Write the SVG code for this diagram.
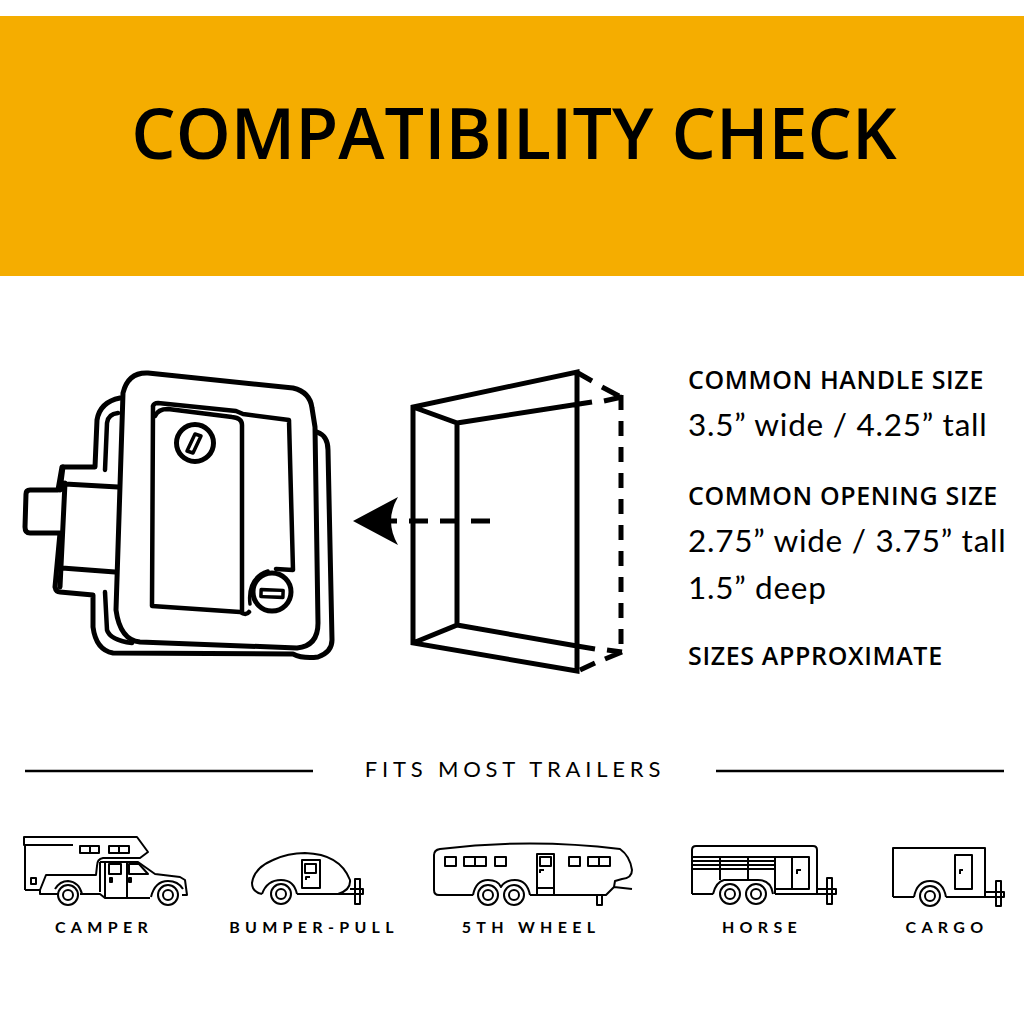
<svg xmlns="http://www.w3.org/2000/svg" width="1024" height="1024" viewBox="0 0 1024 1024">
<style>
.l{fill:none;stroke:#000;stroke-linejoin:round;stroke-linecap:round}
.k{stroke-width:5}
.t{stroke-width:4.500}
.b{stroke-width:5;stroke-linecap:butt;stroke-linejoin:miter}
.v{fill:none;stroke:#000;stroke-width:2;stroke-linejoin:round}
text{fill:#000}
.h{font:600 25px "Open Sans",sans-serif;letter-spacing:.65px}
.s{font:400 31.500px Lato,sans-serif;letter-spacing:.75px}
.c{font:700 16px Lato,sans-serif;letter-spacing:5.300px;text-anchor:middle}
</style>
<rect width="1024" height="1024" fill="#fff"/>
<g id="banner">
<rect x="0" y="16" width="1024" height="260" fill="#f5ad00"/>
<text x="514" y="159" text-anchor="middle" font-family="Open Sans,sans-serif" font-weight="600" font-size="70">COMPATIBILITY CHECK</text>
</g>
<g id="latch">
<path class="l k" d="M148 373L293 388Q310 392 312 408L315 427L318 623Q318 646 297 648L140 642Q120 640 116 610L123 393Q128 372 148 373Z"/>
<path class="l k" d="M120 398Q100 402 97 420L95 467H62L58 490H30Q26 490 26 494L25 527Q25 533 30 533L60 533L55 587Q56 592 60 592L93 595V627Q96 650 113 653L293 654Q303 659 318 657Q332 652 332 640L328 450Q328 436 317 432"/>
<path class="l t" d="M105 470L107 423Q108 414 118 413M105 592L107 630Q110 640 132 643"/>
<path class="l k" d="M63 467L60 490M65 483L60 587M65 484L118 487M62 568L115 572"/>
<path class="l t" d="M153 406Q154 403 158 403L236 411L243 414L289 420L293 570L276 569"/>
<path class="l t" d="M153 407L152 606L240 612Q246 616 249 612"/>
<path class="l t" d="M155 416Q158 409 168 409L232 417Q242 418 242 425V611"/>
<circle class="l k" cx="195" cy="443" r="18.500"/>
<path class="l" stroke-width="3.500" d="M195 434L201 436L193 453L187 451Z"/>
<circle class="l k" cx="272" cy="592" r="19"/>
<path class="l" stroke-width="3.500" d="M250 604Q247 578 268 571"/>
<rect class="l" stroke-width="3.500" x="261" y="590" width="22" height="7" transform="rotate(2 272 594)"/>
</g>
<g id="opening">
<path class="l b" d="M413 407V643L577 671V372ZM413 407L457 423V625L413 643M457 423L592 402M457 625L577 646"/>
<path class="l b" d="M621 395V650" stroke-dasharray="15 11"/>
<path class="l b" d="M578 373L592 381M602 387L619 396M604 401L622 397M580 670L595 663M605 659L622 652M577 646L595 649M607 650L622 652"/>
</g>
<g id="connectors">
<path class="l b" d="M490 521H385" stroke-dasharray="19 12"/>
<path d="M353 521L398 497Q384 521 398 545Z" fill="#000"/>
</g>
<g id="specs">
<text class="h" x="688" y="389">COMMON HANDLE SIZE</text>
<text class="s" x="688" y="436">3.5” wide / 4.25” tall</text>
<text class="h" x="688" y="505">COMMON OPENING SIZE</text>
<text class="s" x="688" y="552">2.75” wide / 3.75” tall</text>
<text class="s" x="688" y="599">1.5” deep</text>
<text class="h" x="688" y="665">SIZES APPROXIMATE</text>
</g>
<g id="fits">
<path d="M25 771H313M716 771H1004" stroke="#000" stroke-width="2.500"/>
<text x="515" y="776.500" text-anchor="middle" font-family="Lato,sans-serif" font-size="22" letter-spacing="4.800">FITS MOST TRAILERS</text>
</g>
<g id="camper">
<path class="v" d="M25 890V845H24V837H137L148 852L140 858H103Q97 859 97 866L96 875H46L40 890H25M25 845H73M40 890V894H58M80 894H100L105 898H150M100 862V892M100 862H138L155 874L180 877L185 880L187 895H182"/>
<path class="v" d="M105 862V898M127 862V898"/>
<rect class="v" x="80" y="846" width="19" height="7"/><path class="v" d="M90 846V853"/>
<rect class="v" x="109" y="846" width="20" height="7"/><path class="v" d="M119 846V853"/>
<rect class="v" x="31" y="878" width="5" height="6"/>
<rect class="v" x="109" y="864" width="12" height="10"/>
<path class="v" d="M129 864H139L148 874H129Z"/>
<rect class="v" x="110" y="878" width="2" height="4"/><rect class="v" x="129" y="878" width="2" height="4"/>
<circle class="v" cx="68" cy="895" r="10"/><circle class="v" cx="68" cy="895" r="5"/>
<circle class="v" cx="168" cy="895" r="10"/><circle class="v" cx="168" cy="895" r="5"/>
<path class="v" d="M55 889Q60 881 68 881Q79 882 82 894M151 897Q155 881 168 881Q178 881 183 889"/>
<text class="c" x="104" y="933">CAMPER</text>
</g>
<g id="bumper-pull">
<path class="v" d="M262 894Q252 892 252 883Q254 868 273 860Q288 853 305 853Q340 854 350 880Q351 890 338 894H297"/>
<rect class="v" x="355" y="879" width="5" height="25" fill="#fff"/>
<path class="v" d="M338 894H363V889H350M262 894Q267 880 281 880Q294 880 297 894"/>
<circle class="v" cx="281" cy="894" r="10"/><circle class="v" cx="281" cy="894" r="5"/>
<rect class="v" x="302" y="860" width="18" height="28"/><rect class="v" x="305" y="864" width="11" height="9"/>
<path class="v" d="M310 877H306V880"/>
<text class="c" x="314" y="933">BUMPER-PULL</text>
</g>
<g id="fifth-wheel">
<path class="v" d="M473 895H439Q434 895 434 890V855Q434 850 440 849Q530 838 620 849Q630 856 632 870Q632 878 622 879L615 881L614 887L632 889M614 887L606 895H530M473 895Q476 880 488 880Q498 880 501 887Q505 880 515 880Q527 880 530 895"/>
<circle class="v" cx="488" cy="895" r="10"/><circle class="v" cx="488" cy="895" r="5"/>
<circle class="v" cx="514" cy="895" r="10"/><circle class="v" cx="514" cy="895" r="5"/>
<rect class="v" x="445" y="857" width="11" height="9"/>
<rect class="v" x="464" y="857" width="22" height="9"/><path class="v" d="M475 857V866"/>
<rect class="v" x="495" y="857" width="11" height="9"/>
<rect class="v" x="537" y="854" width="17" height="41"/><rect class="v" x="540" y="857" width="11" height="9"/>
<path class="v" d="M537 888H554M544 870H540V873"/>
<rect class="v" x="569" y="857" width="11" height="9"/>
<rect class="v" x="588" y="857" width="22" height="9"/><path class="v" d="M599 857V866"/>
<rect class="v" x="597" y="895" width="5" height="10"/>
<text class="c" x="531" y="933">5TH WHEEL</text>
</g>
<g id="horse">
<path class="v" d="M692 894V850Q692 846 696 846H813Q817 846 817 850V894H775M713 894H692M773 894Q771 880 758 880H724Q716 882 713 894"/>
<path class="v" d="M692 857H775M692 861H775M692 865H775M692 869H775M720 857V880M748 857V880M775 857H809V889H775ZM775 889V894M792 857V889"/>
<path class="v" d="M801 870H797V874"/>
<circle class="v" cx="730" cy="894" r="10"/><circle class="v" cx="730" cy="894" r="5"/>
<circle class="v" cx="756" cy="894" r="10"/><circle class="v" cx="756" cy="894" r="5"/>
<rect class="v" x="827" y="878" width="5" height="26" fill="#fff"/>
<path class="v" d="M817 889H836V894H817"/>
<text class="c" x="762" y="933">HORSE</text>
</g>
<g id="cargo">
<path class="v" d="M893 897V848H985V897H946M893 897H914"/>
<path class="v" d="M914 897Q917 881 930 881Q943 881 946 897"/>
<circle class="v" cx="930" cy="896" r="10"/><circle class="v" cx="930" cy="896" r="5"/>
<rect class="v" x="955" y="855" width="17" height="34"/>
<path class="v" d="M963 870H960V874"/>
<rect class="v" x="996" y="881" width="5" height="25" fill="#fff"/>
<path class="v" d="M985 892H1004V897H985"/>
<text class="c" x="947" y="933">CARGO</text>
</g>
</svg>
